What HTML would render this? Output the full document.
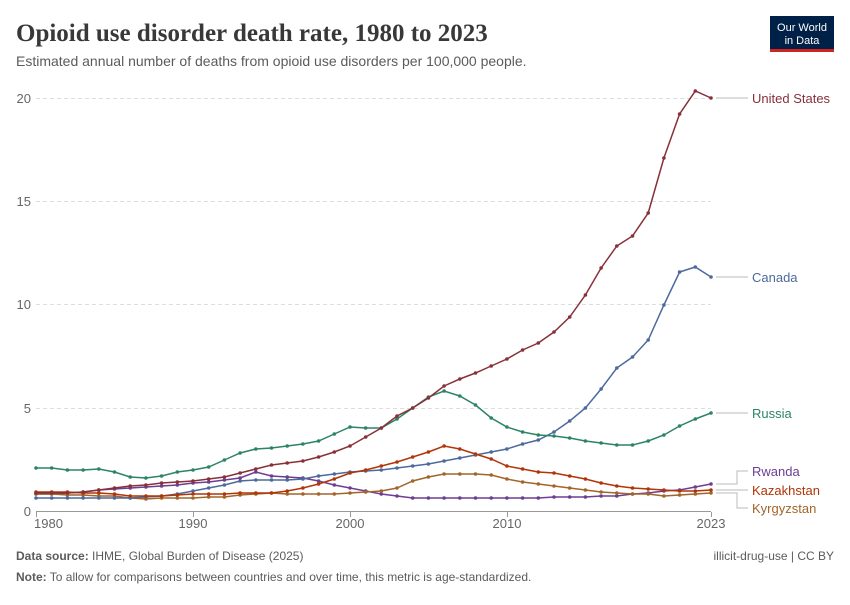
<!DOCTYPE html>
<html><head><meta charset="utf-8"><style>
body{margin:0;background:#fff;width:850px;height:600px;overflow:hidden;font-family:"Liberation Sans",sans-serif}
svg text{font-family:"Liberation Sans",sans-serif}
</style></head><body>
<svg id="s" width="850" height="600" xmlns="http://www.w3.org/2000/svg">
<text x="16" y="41" font-size="25" fill="#383838" font-weight="bold" style="font-family:'Liberation Serif',serif">Opioid use disorder death rate, 1980 to 2023</text>
<text x="16" y="66" font-size="14" fill="#5b5b5b">Estimated annual number of deaths from opioid use disorders per 100,000 people.</text>
<rect x="770" y="16" width="64" height="34" fill="#002147"/>
<rect x="770" y="49" width="64" height="3" fill="#ce261e"/>
<text x="802" y="31" font-size="11" fill="#fff" text-anchor="middle">Our World</text>
<text x="802" y="44" font-size="11" fill="#fff" text-anchor="middle">in Data</text>
<g id="grid" stroke="#ddd" stroke-dasharray="4,3"></g>
<g id="lab" font-size="13" fill="#666"></g>
<line x1="36" y1="511.5" x2="711" y2="511.5" stroke="#999"/>
<g id="d"></g>
<text x="16" y="560" font-size="12" fill="#5b5b5b"><tspan font-weight="bold">Data source:</tspan> IHME, Global Burden of Disease (2025)</text>
<text x="834" y="560" font-size="12" fill="#5b5b5b" text-anchor="end">illicit-drug-use | CC BY</text>
<text x="16" y="581" font-size="12" fill="#5b5b5b"><tspan font-weight="bold">Note:</tspan> To allow for comparisons between countries and over time, this metric is age-standardized.</text>
</svg>
<script>
var ns="http://www.w3.org/2000/svg",S=document.getElementById('s');
function el(p,t,a,txt){var e=document.createElementNS(ns,t);for(var k in a)e.setAttribute(k,a[k]);if(txt!==undefined)e.textContent=String(txt);document.getElementById(p).appendChild(e);return e}
[[0,511],[5,408],[10,304],[15,201],[20,98]].forEach(function(v){
 if(v[0])el('grid','line',{x1:36,x2:711,y1:v[1]+.5,y2:v[1]+.5});
 el('lab','text',{x:31,y:v[1]+5,'text-anchor':'end'},v[0]);});
[[1980,36],[1990,193],[2000,350],[2010,507],[2023,711]].forEach(function(v){
 el('lab','line',{x1:v[1]+.5,x2:v[1]+.5,y1:512,y2:517,stroke:'#999'});
 var a=v[0]==1980?'start':'middle',x=v[0]==1980?v[1]-2:v[1];
 el('lab','text',{x:x,y:528,'text-anchor':a},v[0]);});
var D=[
['#6d3e91',[494,494,493,492,490,489,488,487,486,485,483,482,480,478,472,476,477,478,481,485,488,491,494,496,498,498,498,498,498,498,498,498,498,497,497,497,496,496,494,493,491,490,487,484],'Rwanda',471,484],
['#a2652a',[494,494,495,495,496,496,498,499,498,498,498,497,497,495,494,493,494,494,494,494,493,492,491,488,481,477,474,474,474,475,479,482,484,486,488,490,492,493,494,494,496,495,494,493],'Kyrgyzstan',508,493],
['#4c6a9c',[498,498,498,498,498,498,498,497,496,494,491,488,485,481,480,480,480,479,476,474,472,471,470,468,466,464,461,458,455,452,449,444,440,432,421,408,389,368,357,340,305,272,267,277],'Canada',277,277],
['#2c8465',[468,468,470,470,469,472,477,478,476,472,470,467,460,453,449,448,446,444,441,434,427,428,428,419,408,397,391,396,405,418,427,432,435,436,438,441,443,445,445,441,435,426,419,413],'Russia',413,413],
['#b13507',[492,492,492,493,493,494,496,496,496,495,494,494,494,493,493,493,491,488,484,479,473,470,466,462,457,452,446,449,454,459,466,469,472,473,476,479,483,486,488,489,490,491,491,490],'Kazakhstan',490,490],
['#883039',[493,493,493,492,490,488,486,485,483,482,481,479,477,473,469,465,463,461,457,452,446,437,428,416,408,398,386,379,373,366,359,350,343,332,317,295,268,246,236,213,158,114,91,98],'United States',98,98]];
D.forEach(function(s){
 var pts=s[1].map(function(y,i){return (36+i*675/43).toFixed(1)+','+y});
 el('d','polyline',{points:pts.join(' '),fill:'none',stroke:s[0],'stroke-width':1.5});
 pts.forEach(function(p){var q=p.split(',');el('d','circle',{cx:q[0],cy:q[1],r:1.8,fill:s[0]})});
 el('d','polyline',{points:'716,'+s[4]+' 730,'+s[4]+' 737,'+s[4]+' 737,'+s[3]+' 748,'+s[3],fill:'none',stroke:'#bbb','stroke-width':1});
 el('d','text',{x:752,y:s[3]+5,'font-size':13,fill:s[0]},s[2]);
});
</script>
</body></html>
